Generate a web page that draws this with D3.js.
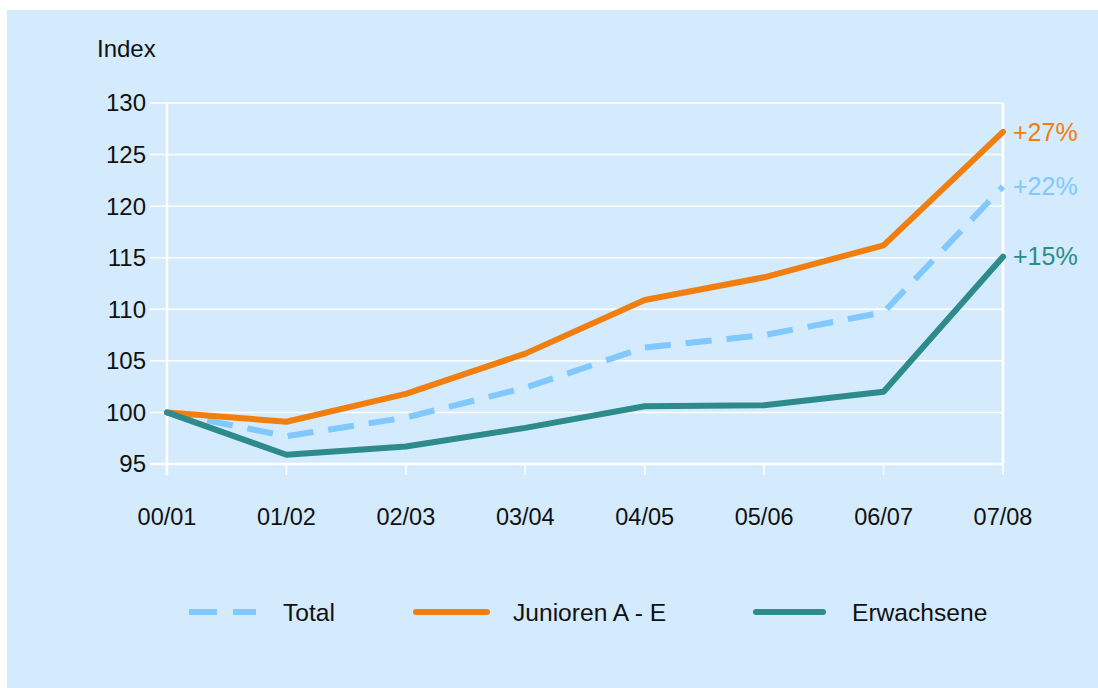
<!DOCTYPE html>
<html><head><meta charset="utf-8">
<script src="https://cdn.jsdelivr.net/npm/d3@7"></script>
<style>html,body{margin:0;padding:0;background:#fff;}svg{display:block;font-family:"Liberation Sans",Arial,sans-serif;}</style>
</head><body>
<svg id="c" width="1098" height="688"></svg>
<script>
const categories = ["00/01","01/02","02/03","03/04","04/05","05/06","06/07","07/08"];
const total      = [100, 97.7, 99.5, 102.4, 106.3, 107.5, 109.7, 121.9];
const junioren   = [100, 99.1, 101.8, 105.7, 110.9, 113.1, 116.2, 127.2];
const erwachsene = [100, 95.9, 96.7, 98.5, 100.6, 100.7, 102.0, 115.1];
const yTicks = [95,100,105,110,115,120,125,130];
const seriesNames = ["Total","Junioren A - E","Erwachsene"];
const endLabels = ["+22%","+27%","+15%"];

const colors = {total:"#80c8fe", jun:"#f07f0f", erw:"#2e8b8b"};
const svg = d3.select("#c");
svg.append("rect").attr("x",7).attr("y",10).attr("width",1091).attr("height",678).attr("fill","#d4eafd");

const x = d3.scalePoint().domain(categories).range([167,1003]);
const y = d3.scaleLinear().domain([95,130]).range([464,103]);

// grid
const g = svg.append("g");
g.selectAll("line.grid").data(yTicks).join("line")
  .attr("x1",150).attr("x2",1003).attr("y1",d=>y(d)).attr("y2",d=>y(d))
  .attr("stroke","#fff").attr("stroke-width",d=>d===95?2.5:1.5);
g.append("line").attr("x1",167).attr("x2",167).attr("y1",103).attr("y2",475).attr("stroke","#fff").attr("stroke-width",2.5);
g.append("line").attr("x1",1003).attr("x2",1003).attr("y1",103).attr("y2",464).attr("stroke","#fff").attr("stroke-width",2.5);
g.selectAll("line.xt").data(categories).join("line")
  .attr("x1",d=>x(d)).attr("x2",d=>x(d)).attr("y1",464).attr("y2",475)
  .attr("stroke","#fff").attr("stroke-width",1.5);

// axis labels
svg.selectAll("text.yl").data(yTicks).join("text")
  .attr("x",146).attr("y",d=>y(d)).attr("dy","0.35em").attr("text-anchor","end")
  .attr("font-size",24).attr("fill","#111").text(d=>d);
svg.selectAll("text.xl").data(categories).join("text")
  .attr("x",d=>x(d)).attr("y",525).attr("text-anchor","middle")
  .attr("font-size",23.5).attr("fill","#111").text(d=>d);
svg.append("text").attr("x",97).attr("y",57).attr("font-size",24).attr("fill","#111").text("Index");

const line = d3.line().x((d,i)=>x(categories[i])).y(d=>y(d));
const series = [
  {v:total, c:colors.total, dash:"26,15", cap:"butt", lab:endLabels[0]},
  {v:junioren, c:colors.jun, dash:null, cap:"round", lab:endLabels[1]},
  {v:erwachsene, c:colors.erw, dash:null, cap:"round", lab:endLabels[2]}
];
series.forEach(s=>{
  svg.append("path").attr("d",line(s.v)).attr("fill","none").attr("stroke",s.c)
    .attr("stroke-width",6).attr("stroke-linejoin","round").attr("stroke-linecap",s.cap)
    .attr("stroke-dasharray",s.dash);
  svg.append("text").attr("x",1013).attr("y",y(s.v[s.v.length-1])).attr("dy","0.35em")
    .attr("font-size",25).attr("fill",s.c).text(s.lab);
});

// legend
const leg = [
  {x1:189,x2:256,tx:283,c:colors.total,dash:"28,16",cap:"butt",name:seriesNames[0]},
  {x1:416,x2:487,tx:513,c:colors.jun,dash:null,cap:"round",name:seriesNames[1]},
  {x1:756,x2:823,tx:852,c:colors.erw,dash:null,cap:"round",name:seriesNames[2]}
];
leg.forEach(l=>{
  svg.append("line").attr("x1",l.x1).attr("x2",l.x2).attr("y1",612).attr("y2",612)
    .attr("stroke",l.c).attr("stroke-width",6).attr("stroke-linecap",l.cap).attr("stroke-dasharray",l.dash);
  svg.append("text").attr("x",l.tx).attr("y",612).attr("dy","0.35em").attr("font-size",24.6).attr("fill","#111").text(l.name);
});
</script>
</body></html>
